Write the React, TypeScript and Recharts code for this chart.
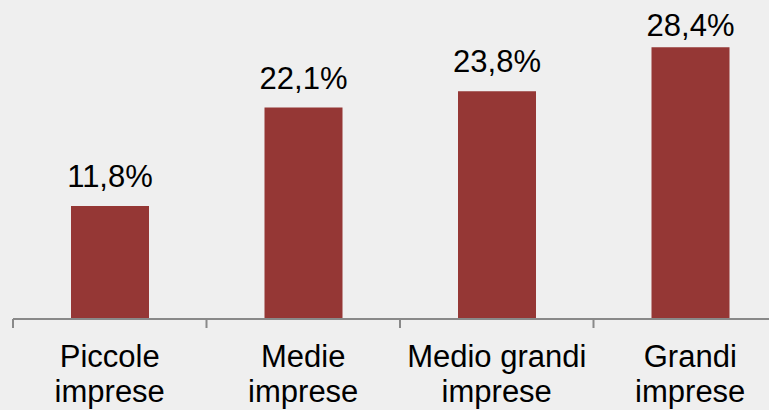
import { BarChart, Bar, XAxis, YAxis, LabelList } from 'recharts'

const categories = ['Piccole imprese', 'Medie imprese', 'Medio grandi imprese', 'Grandi imprese']
const tickLines = [
  ['Piccole', 'imprese'],
  ['Medie', 'imprese'],
  ['Medio grandi', 'imprese'],
  ['Grandi', 'imprese'],
]
const values = [11.8, 22.1, 23.8, 28.4]

const data = categories.map((name, i) => ({ name, value: values[i], lines: tickLines[i] }))

const AXIS_Y = 319
const BAND = 774 / 4
const FONT = '"Liberation Sans", Arial, sans-serif'

function Tick(props: any) {
  const { x, index } = props
  const lines = tickLines[index] || []
  return (
    <g>
      <line x1={x - BAND / 2} y1={AXIS_Y} x2={x - BAND / 2} y2={AXIS_Y + 9} stroke="#898989" strokeWidth={2} />
      <text x={x} textAnchor="middle" fontFamily={FONT} fontSize={31} fill="#000">
        <tspan x={x} y={367}>{lines[0]}</tspan>
        <tspan x={x} y={402}>{lines[1]}</tspan>
      </text>
    </g>
  )
}

function ValueLabel(props: any) {
  const { x, y, width, value } = props
  const base = Math.max(y - 19, 36)
  return (
    <text x={x + width / 2} y={base} textAnchor="middle" fontFamily={FONT} fontSize={31} fill="#000">
      {String(value.toFixed(1)).replace('.', ',') + '%'}
    </text>
  )
}

export default function App() {
  return (
    <div
      style={{
        position: 'fixed',
        left: 0,
        top: 0,
        width: 769,
        height: 410,
        overflow: 'hidden',
        background: '#efefef',
      }}
    >
      <BarChart width={800} height={410} data={data} margin={{ top: 32, right: 13, bottom: 0, left: 13 }}>
        <XAxis
          dataKey="name"
          height={91}
          interval={0}
          tickLine={false}
          axisLine={{ stroke: '#898989', strokeWidth: 2 }}
          tick={<Tick />}
        />
        <YAxis hide domain={[0, 30]} />
        <Bar dataKey="value" fill="#953735" barSize={78} isAnimationActive={false}>
          <LabelList dataKey="value" content={<ValueLabel />} />
        </Bar>
      </BarChart>
    </div>
  )
}
